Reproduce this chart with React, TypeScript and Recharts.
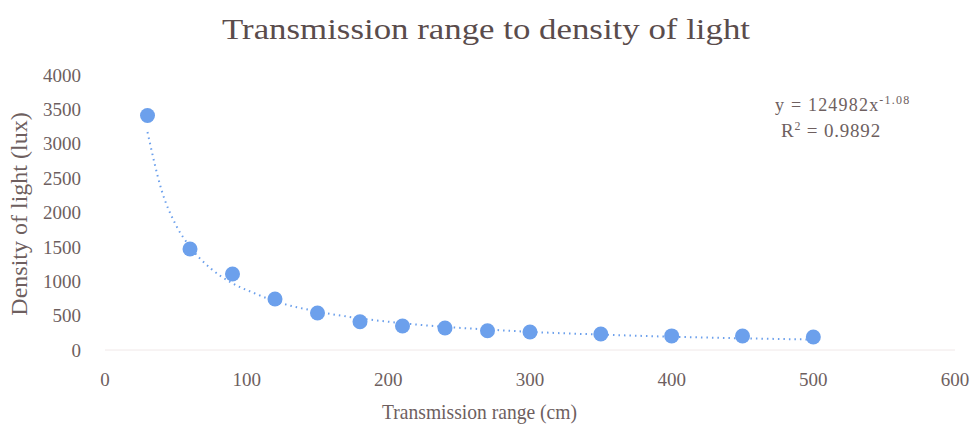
import { ComposedChart, Scatter, Line, XAxis, YAxis } from "recharts";

// measured points: transmission range (cm) -> density of light (lux)
const ranges = [30, 60, 90, 120, 150, 180, 210, 240, 270, 300, 350, 400, 450, 500];
const lux = [3410, 1470, 1105, 742, 538, 410, 350, 320, 280, 262, 232, 205, 204, 190];

// power trendline as it reads off the picture
const trendX = [30, 40, 50, 60, 75, 90, 105, 120, 150, 180, 210, 240, 270, 300, 350, 400, 450, 500];
const trendY = [3170, 2320, 1820, 1500, 1180, 970, 830, 710, 560, 460, 390, 336, 298, 264, 224, 193, 170, 152];

const xTicks = [0, 100, 200, 300, 400, 500, 600];
const yTicks = [0, 500, 1000, 1500, 2000, 2500, 3000, 3500, 4000];

const points = ranges.map((x, i) => ({ x, y: lux[i] }));
const trend = trendX.map((x, i) => ({ x, y: trendY[i] }));

const blue = "#6ca0ec";
const textColor = "#6e5f5f";
const font = "'Liberation Serif', 'DejaVu Serif', serif";

const Dot = (props: any) => <circle cx={props.cx} cy={props.cy} r={7.5} fill={blue} />;

export default function App() {
    return (
        <div style={{ position: "absolute", left: 0, top: 0, width: 973, height: 425, background: "#fff" }}>
            <ComposedChart width={973} height={425} margin={{ top: 75, right: 18, left: 0, bottom: 0 }}>
                <XAxis
                    type="number"
                    dataKey="x"
                    domain={[0, 600]}
                    ticks={xTicks}
                    height={75}
                    tickLine={false}
                    axisLine={{ stroke: "#f0e8e8" }}
                    tick={{ fill: textColor, fontSize: 19, fontFamily: font }}
                    tickMargin={17}
                />
                <YAxis
                    type="number"
                    dataKey="y"
                    domain={[0, 4000]}
                    ticks={yTicks}
                    width={105}
                    tickLine={false}
                    axisLine={false}
                    tick={{ fill: textColor, fontSize: 19, fontFamily: font }}
                    tickMargin={18}
                />
                <Line
                    data={trend}
                    dataKey="y"
                    type="monotone"
                    stroke={blue}
                    strokeWidth={2}
                    strokeDasharray="1.5 4"
                    dot={false}
                    isAnimationActive={false}
                />
                <Scatter data={points} dataKey="y" shape={Dot} isAnimationActive={false} />
                <text x={222} y={39} textLength={528} lengthAdjust="spacingAndGlyphs" fill="#5a4c4c" fontSize={29} fontFamily={font}>
                    Transmission range to density of light
                </text>
                <text
                    x={27}
                    y={214}
                    transform="rotate(-90 27 214)"
                    textAnchor="middle"
                    fill={textColor}
                    fontSize={24}
                    fontFamily={font}
                >
                    Density of light (lux)
                </text>
                <text x={382} y={419} textLength={195} lengthAdjust="spacingAndGlyphs" fill={textColor} fontSize={22} fontFamily={font}>
                    Transmission range (cm)
                </text>
                <text x={775} y={111} fill={textColor} fontSize={18} letterSpacing={1.2} fontFamily={font}>
                    y = 124982x<tspan dy={-7} fontSize={12}>-1.08</tspan>
                </text>
                <text x={781} y={137} fill={textColor} fontSize={19} letterSpacing={0.8} fontFamily={font}>
                    R<tspan dy={-7} fontSize={12}>2</tspan><tspan dy={7}> = 0.9892</tspan>
                </text>
            </ComposedChart>
        </div>
    );
}
